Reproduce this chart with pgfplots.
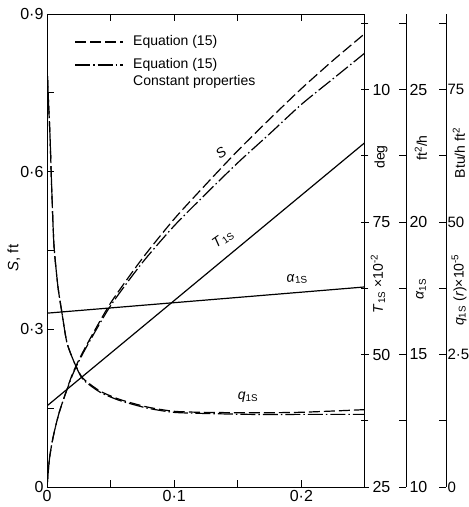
\documentclass[border=0pt]{standalone}
\usepackage{fontspec}
\setmainfont{Liberation Sans}
\usepackage{pgfplots}
\pgfplotsset{compat=1.18}

% one pixel of the reference = 1pt here
\pgfplotsset{
  base/.style={scale only axis, width=318pt, height=473pt, at={(47pt,20pt)},
    anchor=south west, xmin=0, xmax=0.25,
    axis line style={black, line width=1pt},
    tick style={black, line width=0.8pt},
    ticklabel style={font=\fontsize{16}{16}\selectfont}},
  hid/.style={base, hide axis},
  spine/.style={scale only axis, width=1pt, height=473pt, anchor=south west,
    xmin=0, xmax=1, axis x line=none, axis y line*=right,
    axis line style={black, line width=1pt},
    tick style={black, line width=0.8pt}, tick align=inside,
    major tick length=7pt, minor tick length=7pt,
    yticklabel style={font=\fontsize{16}{16}\selectfont, xshift=0pt}},
}
\tikzset{
  eqd/.style={black, line width=1.2pt, dash pattern=on 11pt off 4pt},
  eqc/.style={black, line width=1.2pt, dash pattern=on 15pt off 3pt on 1.5pt off 3pt},
  lab/.style={font=\fontsize{14}{16}\selectfont, inner sep=0pt},
}

\begin{document}
\begin{tikzpicture}
\useasboundingbox (0,0) rectangle (469pt,507pt);

% S, ft
\begin{axis}[base, ymin=0, ymax=0.9,
  xtick={0,0.1,0.2}, xticklabels={0,0·1,0·2}, minor xtick={0.05,0.15},
  ytick={0,0.3,0.6,0.9}, yticklabels={0,0·3,0·6,0·9}, minor ytick={0.15,0.45,0.75},
  xtick pos=both, ytick pos=left, tick align=inside,
  major tick length=7pt, minor tick length=7pt]
\addplot[eqd, smooth, tension=0.4] coordinates {
  (0,0) (0.002,0.055) (0.005,0.097) (0.01,0.145) (0.02,0.215) (0.03,0.265)
  (0.05,0.35) (0.075,0.435) (0.1,0.51) (0.125,0.576) (0.15,0.64)
  (0.175,0.70) (0.2,0.758) (0.225,0.812) (0.25,0.863)};
\addplot[eqc, smooth, tension=0.4] coordinates {
  (0,0) (0.002,0.055) (0.005,0.097) (0.01,0.145) (0.02,0.213) (0.03,0.262)
  (0.05,0.345) (0.075,0.427) (0.1,0.497) (0.125,0.558) (0.15,0.617)
  (0.175,0.672) (0.2,0.728) (0.225,0.777) (0.25,0.826)};
\end{axis}

% T_1S x 10^-2, deg
\begin{axis}[base, ymin=25, ymax=114.25, axis x line=none, axis y line*=right,
  ytick={25,50,75,100}, yticklabels={25,50,75,10},
  minor ytick={37.5,62.5,87.5,112.5}, tick align=center,
  major tick length=8pt, minor tick length=7pt]
\addplot[black, line width=1.2pt] coordinates {(0,40.3) (0.25,90.0)};
\end{axis}

% alpha_1S
\begin{axis}[hid, ymin=10, ymax=27.85]
\addplot[black, line width=1.2pt] coordinates {(0,16.56) (0.25,17.55)};
\end{axis}

% q_1S
\begin{axis}[hid, ymin=0, ymax=8.925]
\addplot[eqd, smooth, tension=0.4] coordinates {
  (0.0004,7.75) (0.0012,7.25) (0.0024,6.6) (0.0039,5.5) (0.0055,4.55)
  (0.0086,3.78) (0.0118,3.28) (0.0157,2.72) (0.022,2.32) (0.0283,2.05)
  (0.0417,1.81) (0.0574,1.65) (0.0786,1.51) (0.099,1.43) (0.12,1.41)
  (0.16,1.40) (0.2,1.41) (0.25,1.46)};
\addplot[eqc, smooth, tension=0.4] coordinates {
  (0.0004,7.75) (0.0012,7.25) (0.0024,6.6) (0.0039,5.5) (0.0055,4.55)
  (0.0086,3.78) (0.0118,3.28) (0.0157,2.72) (0.022,2.32) (0.0283,2.03)
  (0.0417,1.79) (0.0574,1.63) (0.0786,1.49) (0.099,1.41) (0.12,1.39)
  (0.16,1.37) (0.2,1.37) (0.25,1.37)};
\end{axis}

% extra spines
\begin{axis}[spine, at={(405pt,20pt)}, ymin=10, ymax=27.85,
  ytick={10,15,20,25}, yticklabels={10,15,20,25},
  minor ytick={12.5,17.5,22.5,27.5}]
\end{axis}
\begin{axis}[spine, at={(445pt,20pt)}, ymin=0, ymax=8.925,
  ytick={0,2.5,5,7.5}, yticklabels={0,2·5,50,75},
  minor ytick={1.25,3.75,6.25,8.75},
  yticklabel style={font=\fontsize{15}{15}\selectfont, xshift=-2pt}]
\end{axis}

% legend
\draw[eqd] (75pt,465pt) -- (123pt,465pt);
\node[lab, anchor=west] at (133pt,465pt) {Equation (15)};
\draw[eqc] (75pt,442pt) -- (123pt,442pt);
\node[lab, anchor=west] at (133pt,442pt) {Equation (15)};
\node[lab, anchor=west] at (133pt,425pt) {Constant properties};

% axis titles
\node[lab, rotate=90, font=\fontsize{15}{17}\selectfont] at (14pt,249pt) {\textit{S}, ft};
\node[lab, rotate=90] at (381pt,350pt) {deg};
\node[lab, rotate=90] at (378pt,223pt) {\textit{T}\textsubscript{1S} ×10\textsuperscript{-2}};
\node[lab, rotate=90] at (421pt,359pt) {ft\textsuperscript{2}/h};
\node[lab, rotate=90] at (421pt,218pt) {\textit{α}\textsubscript{1S}};
\node[lab, rotate=90] at (459pt,354pt) {Btu/h ft\textsuperscript{2}};
\node[lab, rotate=90] at (459pt,217pt) {\textit{q}\textsubscript{1S} (\textit{r})×10\textsuperscript{-5}};

% curve labels
\node[lab, rotate=35] at (221pt,354pt) {\textit{S}};
\node[lab, rotate=35] at (223pt,268pt) {\textit{T}\textsubscript{1S}};
\node[lab, rotate=5] at (297pt,228pt) {\textit{α}\textsubscript{1S}};
\node[lab] at (248pt,110pt) {\textit{q}\textsubscript{1S}};
\end{tikzpicture}
\end{document}
